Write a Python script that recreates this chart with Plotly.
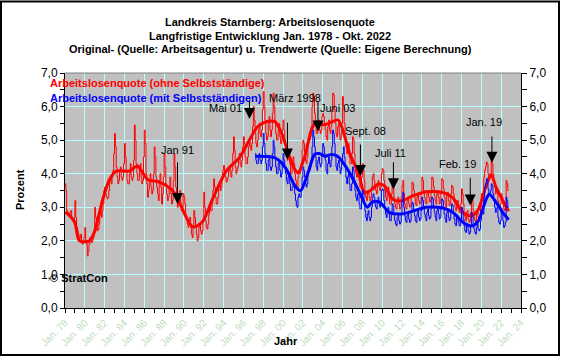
import plotly.graph_objects as go

# ---------------- data ----------------
red_first_year = 1978  # monthly values from Jan 1978 to Oct 2022
red_raw = [
    3.7, 3.5, 2.9, 2.85, 2.8, 2.75, 2.85, 2.9, 2.7, 2.6, 2.55, 2.7,      # 1978
    3.2, 2.7, 2.4, 2.3, 2.2, 2.0, 2.1, 2.2, 1.95, 1.9, 1.95, 2.1,        # 1979
    2.4, 2.0, 1.9, 1.55, 1.7, 1.9, 2.1, 2.0, 1.95, 2.0, 2.1, 2.3,        # 1980
    3.0, 2.7, 2.4, 2.3, 2.35, 2.5, 2.8, 2.9, 2.7, 2.9, 3.1, 3.5,         # 1981
    3.6, 3.4, 3.3, 3.25, 3.3, 3.5, 3.8, 3.9, 3.7, 3.9, 4.1, 4.6,         # 1982
    5.2, 4.8, 4.2, 3.9, 3.7, 3.8, 4.1, 4.2, 3.9, 3.8, 3.9, 4.3,         # 1983
    4.9, 4.5, 4.1, 3.8, 3.7, 3.7, 4.0, 4.3, 3.9, 3.8, 3.9, 4.4,         # 1984
    5.45, 5.0, 4.3, 4.0, 3.8, 3.8, 4.1, 4.3, 3.9, 3.7, 3.8, 4.5,        # 1985
    5.3, 4.9, 4.0, 3.7, 3.3, 3.5, 3.8, 4.0, 3.6, 3.4, 3.5, 4.0,         # 1986
    4.8, 4.5, 3.9, 3.6, 3.4, 3.2, 3.8, 4.0, 3.6, 3.1, 3.4, 3.9,         # 1987
    4.6, 4.2, 3.7, 3.4, 3.2, 3.3, 3.6, 3.9, 3.4, 3.1, 3.2, 3.8,         # 1988
    4.6, 4.2, 3.6, 3.3, 3.0, 3.1, 3.3, 3.5, 3.1, 2.9, 3.0, 3.4,         # 1989
    3.3, 3.1, 2.7, 2.6, 2.5, 2.4, 2.6, 2.7, 2.4, 2.2, 2.1, 2.4,         # 1990
    2.9, 2.7, 2.4, 2.2, 2.0, 2.1, 2.4, 2.5, 2.3, 2.2, 2.3, 2.6,         # 1991
    3.45, 3.0, 2.6, 2.4, 2.35, 2.5, 2.8, 3.1, 2.9, 2.9, 3.1, 3.5,       # 1992
    3.85, 3.6, 3.3, 3.1, 3.1, 3.3, 3.6, 3.7, 3.5, 3.6, 3.8, 4.1,        # 1993
    4.25, 4.0, 3.9, 3.75, 3.8, 3.9, 4.1, 4.2, 4.0, 3.9, 4.1, 4.6,       # 1994
    5.1, 4.7, 4.2, 4.0, 4.1, 4.2, 4.5, 4.6, 4.3, 4.2, 4.4, 4.8,         # 1995
    5.1, 4.9, 4.5, 4.3, 4.3, 4.5, 4.8, 5.0, 4.8, 4.7, 4.9, 5.4,         # 1996
    6.0, 5.6, 5.2, 4.9, 4.8, 5.0, 5.3, 5.5, 5.2, 5.1, 5.3, 5.9,         # 1997
    6.45, 6.0, 5.6, 5.2, 5.0, 5.1, 5.5, 5.7, 5.3, 5.1, 5.3, 5.8,        # 1998
    6.4, 6.0, 5.6, 5.2, 5.0, 5.0, 5.3, 5.5, 5.1, 4.9, 5.0, 5.3,         # 1999
    5.6, 5.3, 5.0, 4.7, 4.5, 4.4, 4.6, 4.7, 4.3, 4.0, 4.0, 4.2,         # 2000
    4.5, 4.3, 4.0, 3.8, 3.6, 3.55, 3.9, 4.1, 4.0, 4.1, 4.3, 4.7,        # 2001
    5.0, 4.9, 4.6, 4.4, 4.3, 4.5, 4.9, 5.1, 5.0, 5.1, 5.4, 6.0,         # 2002
    6.4, 6.3, 5.8, 5.5, 5.2, 5.2, 5.5, 5.6, 5.3, 5.2, 5.3, 5.7,         # 2003
    5.8, 5.7, 5.5, 5.3, 5.1, 5.0, 5.4, 5.6, 5.3, 5.2, 5.4, 5.9,         # 2004
    6.4, 6.35, 5.9, 5.5, 5.2, 5.1, 5.4, 5.5, 5.2, 5.0, 5.1, 5.5,        # 2005
    6.3, 6.0, 5.5, 5.1, 4.8, 4.6, 4.8, 4.9, 4.5, 4.3, 4.3, 4.6,         # 2006
    5.1, 5.0, 4.6, 4.3, 4.0, 3.9, 4.1, 4.1, 3.8, 3.6, 3.6, 3.9,         # 2007
    4.3, 4.1, 3.8, 3.5, 3.3, 3.2, 3.4, 3.5, 3.3, 3.2, 3.3, 3.6,         # 2008
    3.9, 4.0, 3.8, 3.6, 3.5, 3.4, 3.7, 3.8, 3.6, 3.5, 3.6, 4.0,         # 2009
    4.15, 4.1, 3.8, 3.5, 3.3, 3.2, 3.5, 3.6, 3.3, 3.1, 3.1, 3.4,        # 2010
    3.7, 3.6, 3.3, 3.1, 3.0, 2.95, 3.2, 3.3, 3.1, 2.95, 3.0, 3.3,       # 2011
    3.65, 3.8, 3.4, 3.1, 3.0, 2.95, 3.2, 3.3, 3.1, 3.0, 3.05, 3.3,      # 2012
    3.75, 3.7, 3.5, 3.3, 3.1, 3.05, 3.3, 3.4, 3.2, 3.1, 3.15, 3.4,      # 2013
    3.9, 3.8, 3.5, 3.3, 3.15, 3.1, 3.4, 3.5, 3.3, 3.15, 3.2, 3.5,       # 2014
    3.9, 3.85, 3.6, 3.35, 3.2, 3.1, 3.4, 3.5, 3.3, 3.1, 3.15, 3.45,     # 2015
    3.85, 3.8, 3.55, 3.3, 3.1, 3.0, 3.35, 3.45, 3.2, 3.05, 3.1, 3.4,    # 2016
    3.65, 3.6, 3.4, 3.15, 3.0, 2.9, 3.15, 3.2, 2.95, 2.85, 2.85, 3.1,   # 2017
    3.55, 3.4, 3.1, 2.85, 2.7, 2.6, 2.85, 2.9, 2.65, 2.55, 2.6, 2.85,   # 2018
    3.35, 3.2, 2.9, 2.7, 2.6, 2.55, 2.8, 2.9, 2.7, 2.65, 2.75, 3.0,     # 2019
    3.4, 3.3, 3.2, 3.9, 4.1, 4.2, 4.35, 4.3, 4.0, 3.8, 3.85, 4.0,       # 2020
    4.4, 4.3, 4.0, 3.8, 3.6, 3.4, 3.5, 3.55, 3.2, 3.0, 2.95, 3.1,       # 2021
    3.4, 3.3, 3.1, 2.95, 2.9, 3.0, 3.8, 3.7, 3.5, 3.5,                  # 2022
]

blue_first_year = 1997
blue_first_month = 3  # monthly values from Mar 1997 to Oct 2022
blue_raw = [
    4.6, 4.4, 4.3, 4.3, 4.5, 4.6, 4.4, 4.3, 4.4, 4.8,                   # 1997
    5.2, 4.9, 4.6, 4.3, 4.1, 4.1, 4.4, 4.5, 4.2, 4.1, 4.2, 4.6,         # 1998
    5.0, 4.8, 4.5, 4.2, 4.0, 4.0, 4.3, 4.4, 4.1, 3.9, 4.0, 4.3,         # 1999
    4.6, 4.4, 4.2, 4.0, 3.8, 3.7, 3.9, 4.0, 3.7, 3.5, 3.5, 3.6,         # 2000
    3.7, 3.6, 3.4, 3.2, 3.05, 3.0, 3.3, 3.4, 3.3, 3.3, 3.5, 3.9,        # 2001
    4.2, 4.1, 3.9, 3.7, 3.6, 3.7, 4.0, 4.2, 4.1, 4.2, 4.4, 4.8,         # 2002
    5.3, 5.1, 4.8, 4.5, 4.2, 4.1, 4.4, 4.5, 4.3, 4.2, 4.3, 4.6,         # 2003
    4.9, 4.8, 4.6, 4.4, 4.1, 4.0, 4.3, 4.5, 4.3, 4.2, 4.4, 4.8,         # 2004
    5.3, 5.2, 4.9, 4.5, 4.2, 4.1, 4.3, 4.4, 4.2, 4.0, 4.1, 4.4,         # 2005
    4.6, 4.8, 4.5, 4.2, 3.9, 3.7, 3.9, 4.0, 3.7, 3.5, 3.5, 3.7,         # 2006
    4.2, 4.1, 3.8, 3.5, 3.3, 3.2, 3.4, 3.4, 3.1, 2.95, 2.95, 3.2,       # 2007
    3.5, 3.4, 3.1, 2.9, 2.7, 2.6, 2.8, 2.9, 2.7, 2.6, 2.7, 3.0,         # 2008
    3.3, 3.4, 3.3, 3.1, 3.0, 2.95, 3.2, 3.3, 3.1, 3.0, 3.1, 3.5,        # 2009
    3.55, 3.5, 3.2, 2.95, 2.8, 2.7, 2.95, 3.0, 2.8, 2.6, 2.6, 2.85,     # 2010
    3.1, 3.05, 2.8, 2.6, 2.5, 2.45, 2.7, 2.8, 2.6, 2.5, 2.55, 2.8,      # 2011
    3.2, 3.45, 3.0, 2.75, 2.6, 2.55, 2.75, 2.85, 2.65, 2.55, 2.6, 2.85, # 2012
    3.15, 3.1, 2.95, 2.75, 2.6, 2.55, 2.8, 2.9, 2.7, 2.6, 2.65, 2.9,    # 2013
    3.3, 3.2, 3.0, 2.8, 2.7, 2.6, 2.85, 2.95, 2.75, 2.65, 2.7, 2.95,    # 2014
    3.3, 3.25, 3.05, 2.85, 2.7, 2.6, 2.9, 3.0, 2.8, 2.65, 2.7, 2.95,    # 2015
    3.25, 3.2, 3.0, 2.8, 2.65, 2.55, 2.85, 2.95, 2.7, 2.6, 2.65, 2.9,   # 2016
    3.1, 3.05, 2.85, 2.65, 2.5, 2.45, 2.7, 2.75, 2.55, 2.45, 2.45, 2.65,# 2017
    3.0, 2.9, 2.65, 2.45, 2.3, 2.25, 2.45, 2.5, 2.3, 2.2, 2.25, 2.45,   # 2018
    2.85, 2.75, 2.5, 2.35, 2.25, 2.2, 2.4, 2.5, 2.35, 2.3, 2.35, 2.6,   # 2019
    2.9, 2.85, 2.8, 3.3, 3.6, 3.7, 3.85, 3.8, 3.55, 3.4, 3.4, 3.5,      # 2020
    3.7, 3.65, 3.4, 3.2, 3.0, 2.85, 2.95, 3.0, 2.7, 2.55, 2.5, 2.6,     # 2021
    2.9, 2.8, 2.6, 2.4, 2.45, 2.55, 3.3, 3.2, 3.0, 3.0,                 # 2022
]

red_trend_years = [1978.05, 1978.96, 1979.46, 1980.47, 1980.98, 1981.81, 1982.49, 1983.16,
                   1984.5, 1985.31, 1986.32, 1987.53, 1988.71, 1989.22, 1990.89, 1991.87,
                   1992.88, 1994.26, 1995.6, 1996.61, 1997.42, 1998.29, 1999.16, 1999.84,
                   2000.51, 2001.18, 2001.52, 2002.19, 2002.86, 2003.37, 2004.04, 2004.68,
                   2005.55, 2006.69, 2007.7, 2008.2, 2009.0, 2009.55, 2010.22, 2011.06,
                   2011.91, 2013.08, 2014.43, 2016.1, 2017.11, 2018.12, 2018.97, 2019.63,
                   2020.48, 2020.98, 2021.49, 2022.16, 2022.75]
red_trend_values = [2.86, 2.57, 2.0, 2.0, 2.27, 3.24, 3.83, 4.08,
                    4.08, 4.23, 3.83, 3.75, 3.54, 3.34, 2.42, 2.57,
                    3.24, 4.08, 4.48, 5.01, 5.4, 5.55, 5.55, 5.22,
                    4.62, 4.13, 4.03, 4.52, 5.31, 5.55, 5.46, 5.51,
                    5.6, 4.63, 3.93, 3.44, 3.54, 3.69, 3.64, 3.24,
                    3.19, 3.34, 3.46, 3.44, 3.29, 2.85, 2.75, 2.9,
                    3.64, 3.98, 3.59, 3.2, 2.88]

blue_trend_years = [1997.2, 1999.13, 1999.84, 2000.51, 2001.18, 2001.75, 2002.53, 2003.19,
                    2003.67, 2004.2, 2004.88, 2005.5, 2006.69, 2007.7, 2008.5, 2009.0,
                    2009.7, 2010.72, 2011.91, 2013.25, 2014.43, 2016.1, 2017.11, 2018.12,
                    2018.97, 2019.63, 2020.48, 2020.8, 2021.49, 2022.16, 2022.75]
blue_trend_values = [4.52, 4.48, 4.33, 4.04, 3.65, 3.49, 4.04, 4.58,
                     4.6, 4.52, 4.57, 4.52, 4.04, 3.45, 3.0, 3.16,
                     3.16, 2.85, 2.8, 2.9, 3.0, 2.98, 2.85, 2.56,
                     2.44, 2.56, 3.24, 3.39, 3.15, 2.85, 2.63]

# event arrows (label, x-position in years, arrow tip value, arrow top value, label position)
event_labels = ["Jan 91", "Mai 01", "März 1998", "Juni 03", "Sept. 08", "Juli 11", "Feb. 19", "Jan. 19"]
event_years = [1989.35, 1996.61, 2000.44, 2003.52, 2007.8, 2011.13, 2018.88, 2021.07]
event_tips = [3.10, 5.63, 4.42, 5.26, 3.93, 3.54, 3.05, 4.33]
event_tops = [4.34, 6.2, 5.52, 6.14, 4.87, 4.34, 3.88, 5.11]
event_label_years = [1989.3, 1994.19, 2001.2, 2005.51, 2008.34, 2010.81, 2017.62, 2020.23]
event_label_values = [4.70, 5.95, 6.25, 5.95, 5.26, 4.62, 4.28, 5.55]

x_tick_years = list(range(1978, 2025, 2))
x_tick_labels = ["Jan. %02d" % (y % 100) for y in x_tick_years]
y_tick_values = [0, 1, 2, 3, 4, 5, 6, 7]

title_lines = ["Landkreis Starnberg: Arbeitslosenquote",
               "Langfristige Entwicklung Jan. 1978 - Okt. 2022",
               "Original- (Quelle: Arbeitsagentur) u. Trendwerte (Quelle: Eigene Berechnung)"]
red_name = "Arbeitslosenquote (ohne Selbstständige)"
blue_name = "Arbeitslosenquote (mit Selbstständigen)"

# ---------------- figure ----------------
RED = "#ff0000"
BLUE = "#0000ff"
GRID = "#b4ffff"
FONT = "Liberation Sans, Arial, sans-serif"

red_x = [red_first_year + i / 12 for i in range(len(red_raw))]
blue_x = [blue_first_year + (blue_first_month - 1 + i) / 12 for i in range(len(blue_raw))]

fig = go.Figure()
fig.add_trace(go.Scatter(x=red_x, y=red_raw, mode="lines", line=dict(color=RED, width=1, shape="hv"),
                         name=red_name, hoverinfo="skip"))
fig.add_trace(go.Scatter(x=red_trend_years, y=red_trend_values, mode="lines",
                         line=dict(color=RED, width=3, shape="spline", smoothing=0.8), hoverinfo="skip"))
fig.add_trace(go.Scatter(x=blue_x, y=blue_raw, mode="lines", line=dict(color=BLUE, width=1, shape="hv"),
                         name=blue_name, hoverinfo="skip"))
fig.add_trace(go.Scatter(x=blue_trend_years, y=blue_trend_values, mode="lines",
                         line=dict(color=BLUE, width=3, shape="spline", smoothing=0.8), hoverinfo="skip"))
# invisible trace for the right axis
fig.add_trace(go.Scatter(x=[1978], y=[0], yaxis="y2", mode="markers", marker=dict(opacity=0),
                         hoverinfo="skip"))

# arrows
for yr, tip, top in zip(event_years, event_tips, event_tops):
    fig.add_shape(type="line", xref="x", yref="y", x0=yr, x1=yr, y0=tip + 0.1, y1=top,
                  line=dict(color="black", width=1))
fig.add_trace(go.Scatter(x=event_years, y=event_tips, mode="markers",
                         marker=dict(symbol="arrow-down", size=11, color="black",
                                     line=dict(width=0)), hoverinfo="skip"))
for lab, lx, ly in zip(event_labels, event_label_years, event_label_values):
    fig.add_annotation(x=lx, y=ly, xref="x", yref="y", text=lab, showarrow=False,
                       font=dict(size=11, color="black", family=FONT))

# pixel helpers for layout text
L, R, T, B = 65, 521, 73, 310
def px(x):
    return (x - L) / (R - L)
def py(y):
    return (B - y) / (B - T)

for line, yc in zip(title_lines, [22, 36, 49]):
    fig.add_annotation(x=px(270), y=py(yc), xref="paper", yref="paper", text="<b>%s</b>" % line,
                       showarrow=False, xanchor="center", yanchor="middle",
                       font=dict(size=11, color="black", family=FONT))

fig.add_annotation(x=px(48), y=py(83), xref="paper", yref="paper", text="<b>%s</b>" % red_name,
                   showarrow=False, xanchor="left", yanchor="middle", font=dict(size=11, color=RED, family=FONT))
fig.add_annotation(x=px(48), y=py(98), xref="paper", yref="paper", text="<b>%s</b>" % blue_name,
                   showarrow=False, xanchor="left", yanchor="middle", font=dict(size=11, color=BLUE, family=FONT))
fig.add_annotation(x=px(48), y=py(280), xref="paper", yref="paper", text="<b>© StratCon</b>",
                   showarrow=False, xanchor="left", yanchor="middle", font=dict(size=11, color="black", family=FONT))
fig.add_annotation(x=px(20), y=py(191), xref="paper", yref="paper", text="<b>Prozent</b>", textangle=-90,
                   showarrow=False, xanchor="center", yanchor="middle", font=dict(size=11, color="black", family=FONT))
fig.add_annotation(x=px(286), y=py(343), xref="paper", yref="paper", text="<b>Jahr</b>",
                   showarrow=False, xanchor="center", yanchor="middle", font=dict(size=11, color="black", family=FONT))

# top border of plot area and outer frame
fig.add_shape(type="line", xref="paper", yref="paper", x0=0, x1=1, y0=1, y1=1,
              line=dict(color="#808080", width=1))
fig.add_shape(type="rect", xref="paper", yref="paper", x0=px(1), x1=px(559), y0=py(1), y1=py(357.5),
              line=dict(color="black", width=2), fillcolor="rgba(0,0,0,0)", layer="above")

fig.update_layout(
    width=563, height=360,
    margin=dict(l=L, r=563 - R, t=T, b=360 - B, pad=0),
    paper_bgcolor="white", plot_bgcolor="#c0c0c0",
    separators=",.",
    showlegend=False,
    hovermode=False,
    font=dict(family=FONT, size=11, color="black"),
    xaxis=dict(range=[1978, 2024], tickmode="array", tickvals=x_tick_years, ticktext=x_tick_labels,
               tickangle=-45, tickfont=dict(size=10, color="#c0dcc0", family=FONT),
               ticks="outside", ticklen=4, tickcolor="black", tickwidth=1,
               showline=True, linecolor="black", linewidth=1,
               showgrid=True, gridcolor=GRID, gridwidth=1, zeroline=False,
               minor=dict(tickmode="array", tickvals=list(range(1978, 2025)), ticks="outside",
                          ticklen=4, tickcolor="black", showgrid=False)),
    yaxis=dict(range=[0, 7], tickmode="array", tickvals=y_tick_values, tickformat=".1f",
               tickfont=dict(size=12, color="black", family=FONT),
               ticks="outside", ticklen=4, tickcolor="black",
               showline=True, linecolor="black", linewidth=1,
               showgrid=True, gridcolor=GRID, gridwidth=1, zeroline=False,
               minor=dict(dtick=0.5, ticks="outside", ticklen=4, tickcolor="black", showgrid=False)),
    yaxis2=dict(range=[0, 7], overlaying="y", side="right", tickmode="array", tickvals=y_tick_values,
                tickformat=".1f", tickfont=dict(size=12, color="black", family=FONT),
                ticks="outside", ticklen=5, tickcolor="black",
                showline=True, linecolor="black", linewidth=1, showgrid=False, zeroline=False,
                minor=dict(dtick=0.5, ticks="outside", ticklen=5, tickcolor="black", showgrid=False)),
)

fig.write_html("out.html", config={"displayModeBar": False, "staticPlot": True},
               post_script="document.body.style.margin='0';document.body.style.overflow='hidden';")
